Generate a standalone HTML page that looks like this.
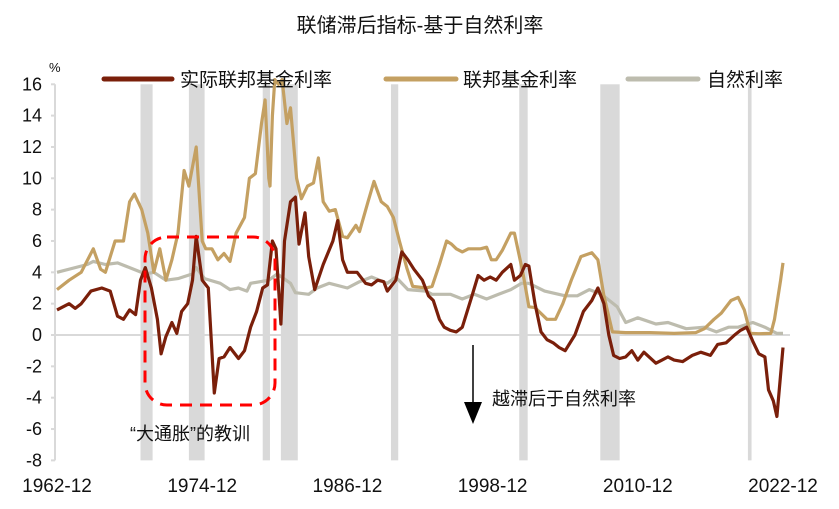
<!DOCTYPE html>
<html><head><meta charset="utf-8"><style>
html,body{margin:0;padding:0;background:#fff;width:839px;height:509px;overflow:hidden}
svg text{font-family:"Liberation Sans","Noto Sans CJK SC",sans-serif}
</style></head><body>
<svg id="chart" width="839" height="509" viewBox="0 0 839 509" xmlns="http://www.w3.org/2000/svg">
<text x="420" y="32" font-size="20" text-anchor="middle" fill="#111">联储滞后指标-基于自然利率</text>
<text x="49" y="72" font-size="13" fill="#111">%</text>
<g id="rec"></g>
<g id="axes"></g>
<g id="series"></g>
<g>
<g><line x1="104" y1="79" x2="172" y2="79" stroke="#7a1f0a" stroke-width="5" stroke-linecap="round"/><text x="180" y="86" font-size="19" fill="#111">实际联邦基金利率</text></g>
<g><line x1="386" y1="79" x2="456" y2="79" stroke="#c4a062" stroke-width="5" stroke-linecap="round"/><text x="463" y="86" font-size="19" fill="#111">联邦基金利率</text></g>
<g><line x1="628" y1="79" x2="698" y2="79" stroke="#bdbcae" stroke-width="5" stroke-linecap="round"/><text x="707" y="86" font-size="19" fill="#111">自然利率</text></g>
</g>
<rect x="145" y="237" width="130" height="168" rx="22" fill="none" stroke="#f00" stroke-width="3" stroke-dasharray="12,8"/>
<text x="130" y="440" font-size="18" fill="#111">“大通胀”的教训</text>
<g><line x1="473" y1="345" x2="473" y2="405" stroke="#000" stroke-width="1.5"/><polygon points="464,402 482,402 473,424" fill="#000"/></g>
<text x="492" y="405" font-size="18" fill="#111">越滞后于自然利率</text>
</svg>
<script>
const recStart=[1969.9,1973.9,1980.0,1981.5,1990.6,2001.2,2007.9,2020.1];
const recEnd=[1970.9,1975.2,1980.6,1982.9,1991.2,2001.9,2009.5,2020.4];
const yTicks=[16,14,12,10,8,6,4,2,0,-2,-4,-6,-8];
const xTickLabels=["1962-12","1974-12","1986-12","1998-12","2010-12","2022-12"];
const xTickYears=[1963,1975,1987,1999,2011,2023];
const ffYears=[1963,1964,1965,1966,1966.6,1967,1967.8,1968.5,1969,1969.4,1970,1970.5,1971,1971.5,1972,1972.5,1973,1973.5,1973.9,1974.5,1975,1975.3,1975.8,1976.3,1976.8,1977.3,1977.8,1978.5,1978.9,1979.4,1979.9,1980.2,1980.5,1980.6,1980.8,1981.0,1981.3,1981.6,1982.0,1982.3,1982.8,1983.2,1983.7,1984.2,1984.6,1985,1985.5,1986,1986.6,1987,1987.7,1988,1988.7,1989.2,1989.8,1990.3,1990.8,1991.3,1991.9,1992.4,1993.5,1994,1994.6,1995.2,1995.6,1996,1996.5,1997,1998,1998.5,1998.9,1999.3,1999.8,2000.5,2000.8,2001.5,2002,2002.5,2003.5,2004.2,2004.8,2005.5,2006.3,2007.2,2007.7,2008.2,2008.9,2010,2012,2014,2015.8,2016.5,2017.3,2017.9,2018.7,2019.3,2019.8,2020.3,2021,2022.0,2022.3,2022.8,2023];
const ffValues=[2.9,3.5,4.0,5.5,4.2,4.0,6.0,6.0,8.5,9.0,8.0,6.5,4.0,5.5,3.5,4.8,6.5,10.5,9.5,12.0,6.0,5.5,5.5,4.8,5.2,4.7,6.5,7.5,10,10.3,13.5,15,10,9.5,14,17,16,17,13.5,14.5,10,8.7,9.5,9.7,11.3,8.5,7.9,8,6.3,6.2,7,6.6,8.5,9.8,8.5,8.2,7.5,6,4.3,3.1,3.0,3.1,4.5,6.0,5.8,5.5,5.3,5.5,5.5,5.6,4.8,4.8,5.4,6.5,6.5,4.0,1.8,1.75,1.0,1.0,2.0,3.5,5.0,5.25,4.8,2.5,0.2,0.15,0.15,0.1,0.15,0.4,1.0,1.4,2.2,2.4,1.6,0.1,0.08,0.1,1.0,3.5,4.6];
const nrYears=[1963,1965.5,1966,1967,1968,1969,1970.3,1971,1972,1973,1974.2,1974.5,1975.2,1976.5,1977.3,1978,1978.7,1979,1980.5,1981.2,1982.3,1982.7,1983.8,1984.5,1985.5,1987,1988,1989,1990.3,1991,1992,1993.5,1994,1995.5,1996.5,1997.5,1998.5,1999.5,2000.5,2001.4,2002,2003.3,2005,2006,2007,2008,2009.3,2010,2011,2012.5,2013.5,2015,2016.5,2017.5,2018.5,2019.3,2020.5,2021.5,2022.5,2023];
const nrValues=[4.0,4.5,4.7,4.5,4.6,4.3,3.9,4.0,3.5,3.6,3.9,4.3,3.6,3.3,2.9,3.0,2.8,3.3,3.5,3.9,3.3,2.7,2.6,3.0,3.3,3.0,3.4,3.7,3.3,3.7,2.9,2.8,2.6,2.6,2.3,2.6,2.3,2.6,2.9,3.3,3.3,2.8,2.5,2.5,2.9,2.6,1.8,0.8,1.1,0.7,0.8,0.4,0.5,0.2,0.5,0.5,0.8,0.5,0.1,0.1];
const rrYears=[1963,1964,1964.5,1965,1965.8,1966.7,1967.4,1968,1968.5,1969,1969.5,1969.9,1970.3,1970.8,1971.3,1971.6,1972,1972.5,1972.9,1973.3,1973.8,1974.2,1974.5,1975,1975.5,1976,1976.4,1976.8,1977.3,1978,1978.5,1979,1979.5,1980,1980.4,1980.8,1981.1,1981.5,1981.8,1982.3,1982.7,1983,1983.5,1983.8,1984.3,1985,1985.8,1986.2,1986.6,1987,1987.8,1988.5,1989,1989.5,1990,1990.3,1991,1991.5,1992,1992.5,1993.2,1993.7,1994.1,1994.6,1995,1995.5,1996,1996.5,1997.3,1997.8,1998.3,1998.8,1999.3,1999.8,2000.5,2000.8,2001.3,2001.7,2002,2002.5,2003.0,2003.5,2004.0,2004.5,2005,2005.8,2006.5,2007.2,2007.7,2008.2,2008.6,2009,2009.5,2010,2010.5,2011,2011.5,2012.5,2013,2013.5,2014,2014.7,2015.5,2016.2,2017,2017.6,2018.3,2019,2019.5,2020,2020.5,2021,2021.5,2021.8,2022.2,2022.5,2023];
const rrValues=[1.6,2.0,1.7,2.0,2.8,3.0,2.8,1.2,1.0,1.6,1.3,3.5,4.3,3.0,1.0,-1.2,-0.1,0.8,0.1,1.5,2.0,3.5,6.3,3.5,3.0,-3.7,-1.5,-1.4,-0.8,-1.5,-1.0,0.5,1.5,3.0,3.2,6.0,5.5,0.7,6.0,8.5,8.8,5.8,7.8,5.0,2.9,4.5,6.0,7.3,4.8,4.0,4.0,3.3,3.2,3.5,3.4,2.8,3.5,5.3,4.8,4.2,3.5,2.5,2.2,1.0,0.5,0.3,0.2,0.5,2.5,3.8,3.5,3.7,3.5,4.0,4.5,3.5,3.8,4.5,4.4,2.0,0.2,-0.3,-0.5,-0.8,-1.0,0,1.5,2.2,3.0,2.0,0,-1.3,-1.5,-1.4,-1.0,-1.6,-1.1,-1.8,-1.6,-1.4,-1.6,-1.7,-1.3,-1.1,-1.3,-0.6,-0.5,0,0.3,0.5,-0.4,-1.2,-1.4,-3.5,-4.2,-5.2,-0.8];

const NS='http://www.w3.org/2000/svg';
const X=y=>57+(y-1963)*12.1;
const Y=v=>335-v*15.67;
const plotTop=Y(16),plotBot=Y(-8);
function el(t,a,p){const e=document.createElementNS(NS,t);for(const k in a)e.setAttribute(k,a[k]);p.appendChild(e);return e;}
const rec=document.getElementById('rec');
recStart.forEach((s,i)=>{
 const r=el('rect',{x:X(s),y:plotTop,width:X(recEnd[i])-X(s),height:plotBot-plotTop,fill:'#d9d9d9'},rec);
 
 
});
const ax=document.getElementById('axes');
const va=el('line',{x1:55,y1:plotTop,x2:55,y2:plotBot,stroke:'#d9d9d9','stroke-width':2},ax);


const za=el('line',{x1:55,y1:Y(0),x2:790,y2:Y(0),stroke:'#d9d9d9','stroke-width':2},ax);


yTicks.forEach(v=>{
 el('line',{x1:51,y1:Y(v),x2:55,y2:Y(v),stroke:'#d9d9d9','stroke-width':2},ax);
 const t=el('text',{x:42,y:Y(v)+6,'font-size':18,'text-anchor':'end',fill:'#111'},ax);
 t.textContent=v;
 
 
});
xTickLabels.forEach((l,i)=>{
 const t=el('text',{x:X(xTickYears[i]),y:492,'font-size':19,'text-anchor':'middle',fill:'#111'},ax);
 t.textContent=l;
 
 
});
const sg=document.getElementById('series');
function line(xs,vs,c,name){
 const d=xs.map((x,i)=>(i?'L':'M')+X(x).toFixed(1)+','+Y(Math.min(vs[i],16.3)).toFixed(1)).join('');
 const p=el('path',{d:d,fill:'none',stroke:c,'stroke-width':3.2,'stroke-linejoin':'round'},sg);
 
 
}
line(nrYears,nrValues,'#bdbcae','natural-rate-line');
line(ffYears,ffValues,'#c4a062','fed-funds-line');
line(rrYears,rrValues,'#7a1f0a','real-fed-funds-line');
</script>
</body></html>
